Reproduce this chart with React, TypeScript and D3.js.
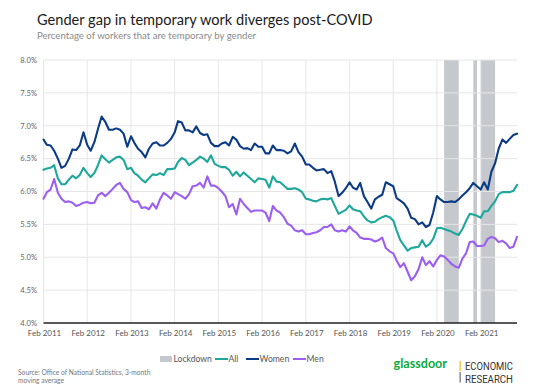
import React from 'react';
import * as d3 from 'd3';

// monthly values, Feb 2011 .. Dec 2021
const startMonth = new Date(2011, 1, 1);

const allSeries = [
  6.33, 6.35, 6.36, 6.40, 6.20, 6.11, 6.11, 6.18, 6.24, 6.20, 6.25, 6.36, 6.28, 6.22, 6.28, 6.40, 6.55, 6.49, 6.44, 6.48, 6.52, 6.53, 6.48, 6.34, 6.36, 6.28, 6.24, 6.18, 6.14, 6.20, 6.26, 6.25, 6.28,
  6.25, 6.34, 6.34, 6.35, 6.45, 6.51, 6.48, 6.40, 6.44, 6.48, 6.53, 6.50, 6.45, 6.55, 6.42, 6.39, 6.37, 6.37, 6.33, 6.24, 6.30, 6.23, 6.29, 6.24, 6.19, 6.14, 6.20, 6.19, 6.18, 6.06, 6.23, 6.15,
  6.14, 6.09, 6.04, 6.04, 6.05, 6.03, 5.99, 5.89, 5.88, 5.86, 5.85, 5.88, 5.89, 5.88, 5.90, 5.78, 5.66, 5.69, 5.72, 5.79, 5.73, 5.71, 5.70, 5.62, 5.56, 5.53, 5.54, 5.58, 5.61, 5.63, 5.61,
  5.56, 5.41, 5.26, 5.18, 5.10, 5.14, 5.15, 5.16, 5.26, 5.16, 5.20, 5.28, 5.44, 5.45, 5.43, 5.41, 5.39, 5.36, 5.34, 5.43, 5.55, 5.66, 5.65, 5.63, 5.60, 5.70, 5.70, 5.78, 5.85, 5.96, 5.99, 5.99, 5.99, 6.01, 6.10,
];

const womenSeries = [
  6.79, 6.71, 6.70, 6.62, 6.50, 6.36, 6.39, 6.50, 6.64, 6.63, 6.70, 6.90, 6.71, 6.62, 6.75, 6.95, 7.14, 7.06, 6.94, 6.94, 6.96, 6.94, 6.88, 6.68, 6.84, 6.74, 6.65, 6.60, 6.52, 6.65, 6.73, 6.75, 6.70,
  6.70, 6.74, 6.80, 6.90, 7.07, 7.05, 6.93, 6.93, 6.90, 6.99, 6.89, 6.86, 6.87, 6.74, 6.69, 6.69, 6.73, 6.75, 6.70, 6.83, 6.79, 6.69, 6.65, 6.66, 6.63, 6.73, 6.68, 6.68, 6.58, 6.58, 6.70, 6.63,
  6.63, 6.62, 6.58, 6.61, 6.73, 6.60, 6.53, 6.41, 6.41, 6.36, 6.32, 6.33, 6.34, 6.28, 6.31, 6.15, 5.93, 5.98, 6.05, 6.14, 6.06, 6.03, 6.13, 5.93, 5.84, 5.74, 5.88, 5.92, 5.95, 6.14, 6.11,
  6.08, 5.90, 5.86, 5.82, 5.74, 5.60, 5.58, 5.50, 5.53, 5.46, 5.49, 5.68, 5.93, 5.88, 5.84, 5.84, 5.85, 5.84, 5.88, 5.94, 5.99, 6.05, 6.13, 6.08, 6.03, 6.14, 6.03, 6.30, 6.43, 6.65, 6.79, 6.74, 6.80, 6.86, 6.88,
];

const menSeries = [
  5.89, 5.99, 6.03, 6.19, 5.98, 5.89, 5.84, 5.85, 5.83, 5.78, 5.80, 5.83, 5.84, 5.82, 5.83, 5.94, 5.98, 5.93, 5.98, 6.04, 6.10, 6.13, 6.04, 5.99, 5.87, 5.84, 5.85, 5.75, 5.76, 5.73, 5.82, 5.74, 5.88,
  5.98, 5.94, 5.89, 5.99, 5.96, 5.93, 5.89, 5.96, 6.08, 6.09, 6.13, 6.06, 6.23, 6.09, 6.09, 6.05, 6.00, 5.93, 5.76, 5.81, 5.65, 5.89, 5.81, 5.75, 5.69, 5.71, 5.71, 5.71, 5.68, 5.55, 5.78, 5.71,
  5.68, 5.61, 5.51, 5.48, 5.41, 5.39, 5.41, 5.35, 5.35, 5.37, 5.38, 5.41, 5.46, 5.46, 5.50, 5.41, 5.39, 5.41, 5.39, 5.47, 5.41, 5.37, 5.30, 5.28, 5.28, 5.27, 5.24, 5.26, 5.30, 5.14, 5.09,
  5.06, 4.95, 4.85, 4.91, 4.78, 4.65, 4.71, 4.82, 5.00, 4.88, 4.94, 4.86, 4.96, 5.03, 5.01, 4.96, 4.90, 4.86, 4.84, 4.98, 5.06, 5.23, 5.24, 5.17, 5.17, 5.18, 5.28, 5.31, 5.29, 5.23, 5.25, 5.21, 5.14, 5.16, 5.31,
];

// lockdown periods [start, end] as year-month
const lockdowns = [
  ['2020-04', '2020-08'],
  ['2020-12', '2021-01'],
  ['2021-02', '2021-06'],
];

const yTicks = [4.0, 4.5, 5.0, 5.5, 6.0, 6.5, 7.0, 7.5, 8.0];
const xTickYears = [2011, 2012, 2013, 2014, 2015, 2016, 2017, 2018, 2019, 2020, 2021];

const seriesList = [
  { name: 'All', values: allSeries, color: '#1fa79b' },
  { name: 'Women', values: womenSeries, color: '#0c3b86' },
  { name: 'Men', values: menSeries, color: '#9c5ef0' },
];

const font = 'Lato, "Open Sans", sans-serif';

const App = () => {
  const width = 533;
  const height = 392;
  const left = 43.5;
  const right = 517;
  const top = 60;
  const bottom = 323;

  const dates = allSeries.map((_, i) => d3.timeMonth.offset(startMonth, i));
  const parseYm = d3.timeParse('%Y-%m');

  const x = d3.scaleTime().domain([dates[0], dates[dates.length - 1]]).range([left, right]);
  const y = d3.scaleLinear().domain([4, 8]).range([bottom, top]);

  const lineGen = d3
    .line<number>()
    .x((d, i) => x(dates[i]))
    .y((d) => y(d));

  const fmtTick = d3.timeFormat('%b %Y');

  // legend
  const legendY = 359;
  const legendItems = [
    { name: 'Lockdown', kind: 'rect', color: '#c5c8cd', x: 160 },
    { name: 'All', kind: 'line', color: seriesList[0].color, x: 215 },
    { name: 'Women', kind: 'line', color: seriesList[1].color, x: 246 },
    { name: 'Men', kind: 'line', color: seriesList[2].color, x: 293 },
  ];

  return (
    <svg
      width={width}
      height={height}
      style={{ position: 'absolute', left: 0, top: 0, background: '#fff' }}
      fontFamily={font}
    >
      <text x={37} y={25} fontSize={14.6} fill="#1a1a1a">
        Gender gap in temporary work diverges post-COVID
      </text>
      <text x={37} y={39} fontSize={9.6} fill="#8a8a8a">
        Percentage of workers that are temporary by gender
      </text>

      {/* lockdown bands */}
      {lockdowns.map(([s, e], i) => {
        const x0 = x(parseYm(s) as Date);
        const x1 = x(parseYm(e) as Date);
        return <rect key={i} x={x0} y={top} width={x1 - x0} height={bottom - top} fill="#c5c8cd" />;
      })}

      {/* grid */}
      {yTicks.map((t) => (
        <g key={t}>
          {t > 4 && <line x1={left} x2={right} y1={y(t)} y2={y(t)} stroke="#e6e6e6" strokeWidth={1} />}
          <text x={37} y={y(t) + 2.8} fontSize={7.6} textAnchor="end" fill="#666">
            {d3.format('.1f')(t)}%
          </text>
        </g>
      ))}
      {xTickYears.map((yr) => {
        const d = new Date(yr, 1, 1);
        return (
          <g key={yr}>
            <line x1={x(d)} x2={x(d)} y1={top} y2={bottom} stroke="#e6e6e6" strokeWidth={1} />
            <text x={x(d) + 1} y={336} fontSize={8} textAnchor="middle" fill="#555">
              {fmtTick(d)}
            </text>
          </g>
        );
      })}

      {/* series */}
      {seriesList.map((s) => (
        <path
          key={s.name}
          d={lineGen(s.values) || ''}
          fill="none"
          stroke={s.color}
          strokeWidth={2.1}
          strokeLinejoin="round"
          strokeLinecap="round"
        />
      ))}

      <line x1={left} x2={right} y1={bottom} y2={bottom} stroke="#222" strokeWidth={1.6} />

      {/* legend */}
      {legendItems.map((it) => (
        <g key={it.name}>
          {it.kind === 'rect' ? (
            <rect x={it.x} y={legendY - 3} width={12} height={6} fill={it.color} />
          ) : (
            <line x1={it.x} x2={it.x + 13} y1={legendY} y2={legendY} stroke={it.color} strokeWidth={2} />
          )}
          <text x={it.x + 13.5} y={legendY + 3} fontSize={8.6} fill="#555">
            {it.name}
          </text>
        </g>
      ))}

      {/* source */}
      <text x={18} y={374.5} fontSize={6.7} fill="#777">
        Source: Office of National Statistics, 3-month
      </text>
      <text x={18} y={382.5} fontSize={6.7} fill="#777">
        moving average
      </text>

      {/* logo */}
      <text x={393.5} y={367.5} fontSize={12.6} fontWeight="bold" fill="#0caa41" fontFamily="Lato, sans-serif">
        glassdoor
      </text>
      <rect x={459.5} y={361} width={1.3} height={10} fill="#f2c230" />
      <rect x={459.5} y={372} width={1.3} height={10.5} fill="#777" />
      <text
        x={465}
        y={369.5}
        fontSize={10.5}
        fill="#333"
        fontFamily="Roboto, sans-serif"
        textLength={48}
        lengthAdjust="spacingAndGlyphs"
      >
        ECONOMIC
      </text>
      <text
        x={465}
        y={382.5}
        fontSize={10.5}
        fill="#333"
        fontFamily="Roboto, sans-serif"
        textLength={48}
        lengthAdjust="spacingAndGlyphs"
      >
        RESEARCH
      </text>
    </svg>
  );
};

export default App;
